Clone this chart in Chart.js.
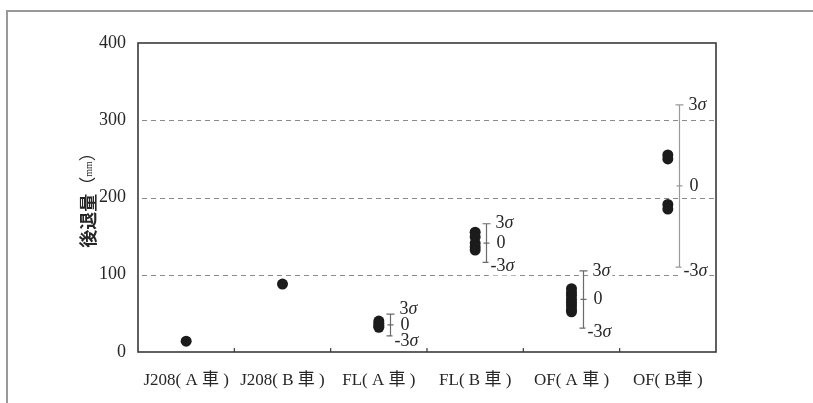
<!DOCTYPE html>
<html>
<head>
<meta charset="utf-8">
<script src="https://cdn.jsdelivr.net/npm/chart.js@4/dist/chart.umd.min.js"></script>
<style>
  html, body { margin: 0; padding: 0; background: #fff; }
  #wrap { position: relative; width: 813px; height: 403px; }
</style>
</head>
<body>
<div id="wrap"><canvas id="c" width="813" height="403"></canvas></div>
<script>
// Vehicle / type categories along the x axis
const categories = ['J208( A 車 )', 'J208( B 車 )', 'FL( A 車 )', 'FL( B 車 )', 'OF( A 車 )', 'OF( B車 )'];

// Measured retreat values (mm) for each category
const retreatJ208A = [14];
const retreatJ208B = [88];
const retreatFLA   = [40, 37, 34, 32];
const retreatFLB   = [155, 149, 141, 136, 132];
const retreatOFA   = [82, 77, 73, 68, 64, 60, 55, 52];
const retreatOFB   = [255, 250, 191, 185];

// Mean and 3σ spread per category (null = no spread bar)
const sigmaMean = [null, null, 35, 141, 68, 215];
const sigma3    = [null, null, 14, 25, 37, 105];

// Y axis ticks and titles
const yTicks = [0, 100, 200, 300, 400];
const yTitle = '後退量';
const yUnit = 'mm';

const SERIF = "'Liberation Serif', 'Noto Sans CJK JP', serif";
const INK = '#262626';

const seriesByCategory = [retreatJ208A, retreatJ208B, retreatFLA, retreatFLB, retreatOFA, retreatOFB];
const points = [];
seriesByCategory.forEach((vals, i) => vals.forEach(v => points.push({ x: categories[i], y: v })));

// Dashed grid, plot frame, inner tick marks
const framePlugin = {
  id: 'frame',
  beforeDatasetsDraw(chart) {
    const { ctx, chartArea: a, scales } = chart;
    const y = scales.y, x = scales.x;
    ctx.save();
    ctx.strokeStyle = '#8a8a8a';
    ctx.lineWidth = 1.2;
    ctx.setLineDash([5, 4]);
    yTicks.forEach(v => {
      if (v === yTicks[0] || v === yTicks[yTicks.length - 1]) return;
      const py = Math.round(y.getPixelForValue(v)) + 0.5;
      ctx.beginPath();
      ctx.moveTo(a.left + 4, py);
      ctx.lineTo(a.right - 2, py);
      ctx.stroke();
    });
    ctx.setLineDash([]);
    ctx.strokeStyle = '#3a3a3a';
    ctx.lineWidth = 1.6;
    ctx.strokeRect(a.left, a.top, a.right - a.left, a.bottom - a.top);
    ctx.lineWidth = 1.2;
    for (let i = 1; i < categories.length; i++) {
      const px = (x.getPixelForValue(i - 1) + x.getPixelForValue(i)) / 2;
      ctx.beginPath();
      ctx.moveTo(px, a.bottom);
      ctx.lineTo(px, a.bottom - 4);
      ctx.stroke();
    }
    ctx.restore();
  }
};

function drawSigmaText(ctx, x, y, prefix, withSigma) {
  ctx.font = '18px ' + SERIF;
  const w1 = ctx.measureText(prefix).width;
  ctx.font = 'italic 18px ' + SERIF;
  const w2 = withSigma ? ctx.measureText('σ').width : 0;
  ctx.fillStyle = '#fff';
  ctx.fillRect(x - 2, y - 9, w1 + w2 + 4, 18);
  ctx.fillStyle = INK;
  ctx.font = '18px ' + SERIF;
  ctx.fillText(prefix, x, y);
  if (withSigma) {
    ctx.font = 'italic 18px ' + SERIF;
    ctx.fillText('σ', x + w1, y);
  }
}

// 3σ spread bars with their labels, y title and outer border
const sigmaPlugin = {
  id: 'sigma',
  afterDatasetsDraw(chart) {
    const { ctx, scales } = chart;
    const x = scales.x, y = scales.y;
    ctx.save();
    ctx.textBaseline = 'middle';
    ctx.textAlign = 'left';
    categories.forEach((c, i) => {
      if (sigmaMean[i] == null) return;
      const bx = Math.round(x.getPixelForValue(i)) + 11.5;
      const yt = y.getPixelForValue(sigmaMean[i] + sigma3[i]);
      const ym = y.getPixelForValue(sigmaMean[i]);
      const yb = y.getPixelForValue(sigmaMean[i] - sigma3[i]);
      ctx.strokeStyle = i === categories.length - 1 ? '#9a9a9a' : '#6a6a6a';
      ctx.lineWidth = 1.2;
      ctx.beginPath();
      ctx.moveTo(bx, yt); ctx.lineTo(bx, yb);
      ctx.moveTo(bx - 4, yt); ctx.lineTo(bx + 4, yt);
      ctx.moveTo(bx - 4, yb); ctx.lineTo(bx + 4, yb);
      ctx.moveTo(bx - 3, ym); ctx.lineTo(bx + 3, ym);
      ctx.stroke();
      const lt = Math.min(yt, ym - 16);
      const lb = Math.max(yb + 4, ym + 16);
      drawSigmaText(ctx, bx + 9, lt, '3', true);
      drawSigmaText(ctx, bx + 10, ym, '0', false);
      drawSigmaText(ctx, bx + 4, lb, '-3', true);
    });

    // rotated y axis title
    ctx.save();
    ctx.translate(88, 196);
    ctx.rotate(-Math.PI / 2);
    ctx.fillStyle = INK;
    ctx.textBaseline = 'middle';
    const fMain = "bold 18px 'Noto Sans CJK JP', sans-serif";
    const fParen = "17px 'Noto Sans CJK JP', sans-serif";
    const fUnit = '10px ' + SERIF;
    ctx.font = fMain; const w0 = ctx.measureText(yTitle).width;
    ctx.font = fParen; const wp = ctx.measureText('（').width;
    ctx.font = fUnit; const wu = ctx.measureText(yUnit).width;
    let cx = -(w0 + wp * 2 + wu) / 2;
    ctx.font = fMain; ctx.fillText(yTitle, cx, 0); cx += w0;
    ctx.font = fParen; ctx.fillText('（', cx, 0); cx += wp;
    ctx.font = fUnit; ctx.fillText(yUnit, cx, 1); cx += wu;
    ctx.font = fParen; ctx.fillText('）', cx, 0);
    ctx.restore();

    // outer panel border
    ctx.strokeStyle = '#999';
    ctx.lineWidth = 2;
    ctx.beginPath();
    ctx.moveTo(7, 403); ctx.lineTo(7, 11); ctx.lineTo(813, 11);
    ctx.stroke();
    ctx.restore();
  }
};

new Chart(document.getElementById('c'), {
  type: 'scatter',
  data: {
    labels: categories,
    datasets: [{
      data: points,
      backgroundColor: '#1b1b1b',
      borderColor: '#1b1b1b',
      pointRadius: 5.5,
      pointHoverRadius: 5.5,
      borderWidth: 0
    }]
  },
  options: {
    responsive: false,
    animation: false,
    devicePixelRatio: 1,
    layout: { padding: { left: 0, top: 43, right: 97, bottom: 0 } },
    plugins: { legend: { display: false }, tooltip: { enabled: false } },
    scales: {
      x: {
        type: 'category',
        labels: categories,
        offset: true,
        grid: { display: false },
        border: { display: false },
        ticks: {
          autoSkip: false, maxRotation: 0, minRotation: 0,
          color: INK, padding: 10,
          font: { family: SERIF, size: 17 }
        },
        afterFit(s) { s.height = 51; }
      },
      y: {
        type: 'linear',
        min: 0, max: 400,
        afterBuildTicks(s) { s.ticks = yTicks.map(v => ({ value: v })); },
        grid: { display: false },
        border: { display: false },
        ticks: {
          color: INK, padding: 4,
          font: { family: SERIF, size: 18 }
        },
        afterFit(s) { s.width = 138; }
      }
    }
  },
  plugins: [framePlugin, sigmaPlugin]
});
</script>
</body>
</html>
